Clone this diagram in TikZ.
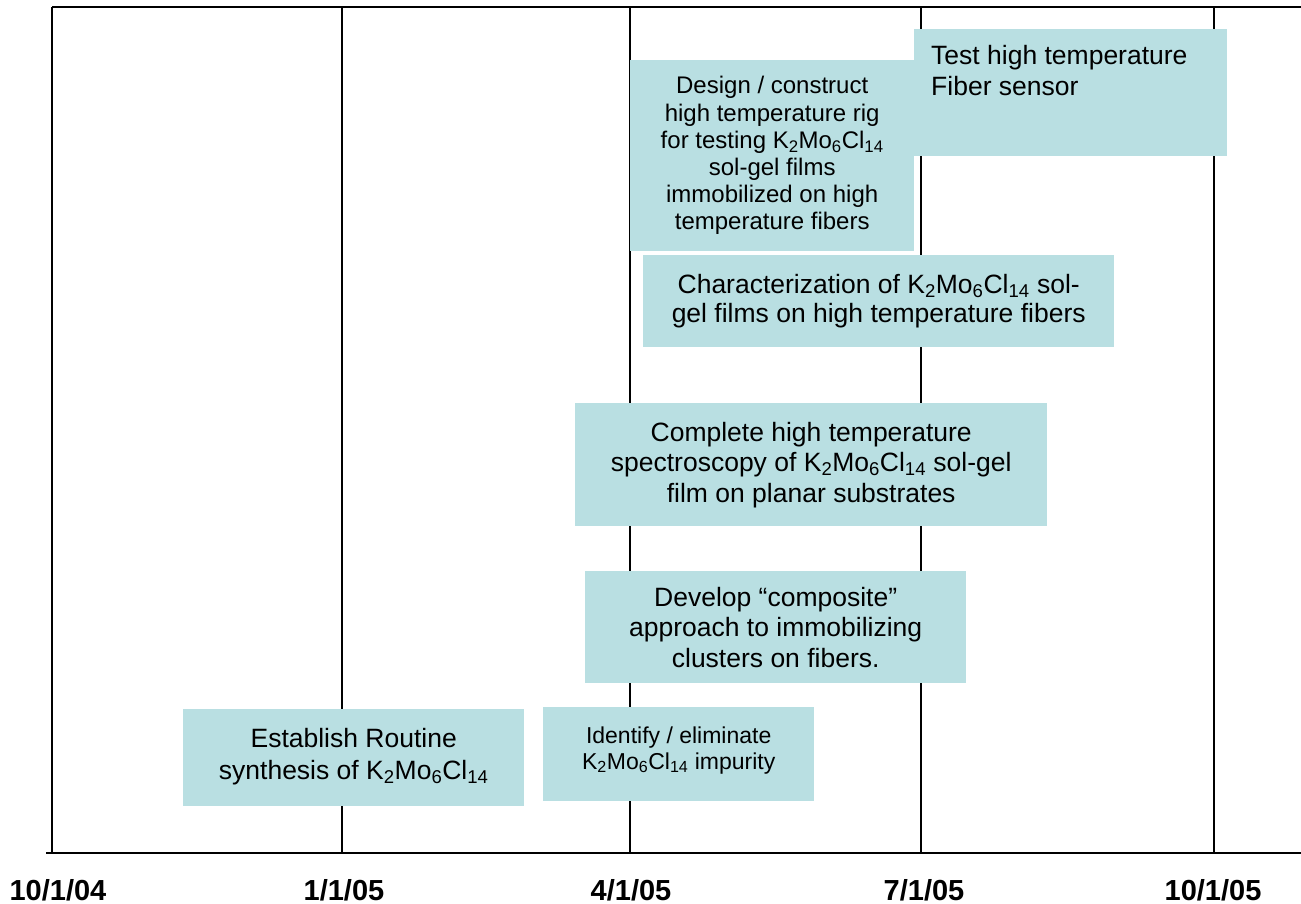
\documentclass[tikz,border=0pt]{standalone}
\usepackage{fontspec}
\setmainfont{Liberation Sans}
\usepackage{xcolor}
\usetikzlibrary{positioning}

\definecolor{taskcol}{RGB}{185,223,226}
\newcommand{\kmo}{K\textsubscript{2}Mo\textsubscript{6}Cl\textsubscript{14}}

\tikzset{
	gridline/.style={line width=1.5pt, black},
	task/.style={fill=taskcol, inner sep=0pt, align=center, anchor=north west, font=\fontsize{26.5}{30.5}\selectfont},
	datelabel/.style={font=\fontsize{29}{32}\selectfont\bfseries}
}

\begin{document}
\begin{tikzpicture}[x=1pt, y=-1pt]
		\useasboundingbox (0,0) rectangle (1301,904);
		
		\draw[gridline]  (52,7) -- (1301,7);  % top
		\draw[gridline]  (52,7) -- (52,853);  % left
		\draw[gridline]  (46,853) -- (1301,853);  % time axis
		\foreach \x in {342,630,921,1214}
			\draw[gridline] (\x,7) -- (\x,853);
		
		\node[datelabel] (d0) at (58,890) {10/1/04};
		\node[datelabel] (d1) at (344,890) {1/1/05};
		\node[datelabel] (d2) at (631,890) {4/1/05};
		\node[datelabel] (d3) at (924,890) {7/1/05};
		\node[datelabel] (d4) at (1213,890) {10/1/05};
		
		\node[task, minimum width=284, minimum height=191, font=\fontsize{24}{27.2}\selectfont] (rig) at (630,60) {Design / construct\\high temperature rig\\for testing \kmo\\sol-gel films\\immobilized on high\\temperature fibers};
		
		\node[task, minimum width=313, minimum height=127] (fiber) at (914,29) {};
		\node[anchor=north west, align=left, inner sep=0pt, font=\fontsize{26.5}{31}\selectfont] (fibertext) at ([xshift=17, yshift=-16]fiber.north west) {Test high temperature\\Fiber sensor};
		
		\node[task, minimum width=471, minimum height=92, font=\fontsize{26.5}{29}\selectfont] (films) at (643,255) {Characterization of \kmo\ sol-\\gel films on high temperature fibers\rule[-4pt]{0pt}{4pt}};
		
		\node[task, minimum width=472, minimum height=123] (spectro) at (575,403) {Complete high temperature\\spectroscopy of \kmo\ sol-gel\\film on planar substrates\rule[-4pt]{0pt}{4pt}};
		
		\node[task, minimum width=381, minimum height=112] (composite) at (585,571) {Develop “composite”\\approach to immobilizing\\clusters on fibers.};
		
		\node[task, minimum width=341, minimum height=97, font=\fontsize{26.5}{32}\selectfont] (synth) at (183,709) {Establish Routine\\synthesis of \kmo\rule[-8pt]{0pt}{8pt}};
		
		\node[task, minimum width=271, minimum height=94, font=\fontsize{23}{26}\selectfont] (impurity) at (543,707) {Identify / eliminate\\\kmo\ impurity\rule[-13pt]{0pt}{13pt}};
\end{tikzpicture}
\end{document}
